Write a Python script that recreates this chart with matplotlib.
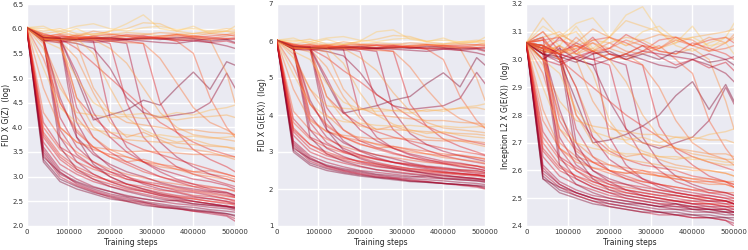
import matplotlib
matplotlib.use("Agg")
import matplotlib.pyplot as plt

steps = [0, 40000, 80000, 120000, 160000, 200000, 240000, 280000, 320000,
         360000, 400000, 440000, 480000, 500000]

# colour level of each run (hyper-parameter value), shared by the three panels
run_level = [1.0, 0.95, 0.9, 0.85, 0.8, 0.98, 0.75, 0.88, 0.7, 0.65, 0.6, 1.0,
             0.95, 0.9, 0.8, 0.85, 0.7, 0.6,
             0.95, 0.9, 0.8, 0.7, 1.0, 0.95,
             0.85, 0.8, 0.9, 0.75, 0.7, 0.6, 0.5,
             0.35, 0.4, 0.45, 0.5, 0.55,
             0.9, 0.4, 0.3, 0.6, 0.55, 0.35, 0.8, 0.5, 0.7, 0.3, 0.95, 0.65,
             0.55, 0.6, 0.5, 0.4, 0.45, 0.72, 0.78, 0.92, 0.85, 0.55, 0.35, 1.0]

fid_gz = [
    [6.02, 3.35, 2.95, 2.80, 2.68, 2.60, 2.52, 2.48, 2.42, 2.38, 2.33, 2.30, 2.25, 2.22],
    [6.02, 3.50, 3.05, 2.88, 2.75, 2.65, 2.58, 2.50, 2.45, 2.40, 2.38, 2.33, 2.30, 2.28],
    [6.02, 3.60, 3.15, 2.95, 2.80, 2.70, 2.62, 2.55, 2.50, 2.45, 2.42, 2.38, 2.35, 2.32],
    [6.02, 3.45, 3.00, 2.82, 2.70, 2.58, 2.50, 2.45, 2.38, 2.35, 2.30, 2.28, 2.22, 2.15],
    [6.02, 3.70, 3.25, 3.05, 2.90, 2.80, 2.72, 2.65, 2.58, 2.52, 2.50, 2.45, 2.40, 2.38],
    [6.02, 3.40, 3.08, 2.90, 2.78, 2.70, 2.60, 2.55, 2.50, 2.52, 2.45, 2.42, 2.40, 2.35],
    [6.02, 3.80, 3.35, 3.10, 2.95, 2.85, 2.75, 2.70, 2.62, 2.58, 2.55, 2.50, 2.45, 2.45],
    [6.02, 3.55, 3.10, 2.85, 2.72, 2.62, 2.55, 2.48, 2.40, 2.36, 2.30, 2.25, 2.20, 2.10],
    [6.02, 3.90, 3.45, 3.20, 3.05, 2.90, 2.80, 2.72, 2.65, 2.60, 2.55, 2.50, 2.48, 2.42],
    [6.02, 4.00, 3.55, 3.30, 3.15, 3.05, 2.95, 2.88, 2.80, 2.75, 2.70, 2.65, 2.60, 2.58],
    [6.02, 4.30, 3.80, 3.50, 3.30, 3.15, 3.05, 2.98, 2.90, 2.85, 2.80, 2.78, 2.75, 2.72],
    [6.02, 3.30, 2.90, 2.75, 2.65, 2.55, 2.50, 2.42, 2.38, 2.35, 2.32, 2.28, 2.25, 2.20],
    [6.02, 5.78, 3.60, 3.15, 2.95, 2.80, 2.70, 2.62, 2.55, 2.50, 2.45, 2.42, 2.38, 2.35],
    [6.02, 5.80, 3.80, 3.30, 3.05, 2.90, 2.78, 2.70, 2.62, 2.55, 2.50, 2.45, 2.40, 2.38],
    [6.02, 5.75, 3.95, 3.45, 3.20, 3.00, 2.85, 2.75, 2.68, 2.62, 2.58, 2.55, 2.50, 2.48],
    [6.02, 5.82, 4.20, 3.60, 3.30, 3.10, 2.95, 2.88, 2.80, 2.72, 2.68, 2.62, 2.55, 2.52],
    [6.02, 5.78, 4.50, 3.90, 3.60, 3.40, 3.25, 3.10, 3.00, 2.92, 2.85, 2.80, 2.75, 2.70],
    [6.02, 5.80, 4.00, 3.70, 3.55, 3.45, 3.40, 3.30, 3.25, 3.20, 3.10, 3.05, 3.00, 2.95],
    [6.02, 5.80, 5.78, 3.80, 3.25, 3.00, 2.85, 2.75, 2.65, 2.58, 2.50, 2.45, 2.40, 2.38],
    [6.02, 5.75, 5.82, 4.10, 3.50, 3.20, 3.00, 2.85, 2.75, 2.68, 2.60, 2.55, 2.50, 2.45],
    [6.02, 5.85, 5.75, 4.40, 3.80, 3.50, 3.30, 3.15, 3.00, 2.90, 2.80, 2.72, 2.65, 2.60],
    [6.02, 5.80, 5.80, 4.60, 4.20, 3.90, 3.70, 3.55, 3.45, 3.35, 3.25, 3.15, 3.05, 3.00],
    [6.02, 5.85, 5.80, 5.00, 4.15, 4.25, 4.35, 4.55, 4.45, 4.80, 5.12, 4.77, 5.33, 5.26],
    [6.02, 5.80, 5.75, 5.70, 5.60, 5.20, 4.60, 4.30, 4.20, 4.25, 4.30, 4.50, 5.10, 4.80],
    [6.02, 5.85, 5.80, 5.78, 5.75, 4.20, 3.60, 3.30, 3.10, 2.95, 2.85, 2.75, 2.68, 2.62],
    [6.02, 5.80, 5.85, 5.80, 5.78, 5.70, 4.50, 3.80, 3.45, 3.20, 3.05, 2.95, 2.85, 2.80],
    [6.02, 5.78, 5.80, 5.82, 5.80, 5.75, 5.70, 4.30, 3.70, 3.40, 3.20, 3.05, 2.95, 2.90],
    [6.02, 5.82, 5.78, 5.80, 5.85, 5.78, 5.75, 5.70, 4.50, 3.90, 3.55, 3.35, 3.20, 3.10],
    [6.02, 5.90, 5.80, 5.60, 5.30, 5.00, 4.70, 4.40, 4.10, 3.90, 3.70, 3.55, 3.45, 3.40],
    [6.02, 5.80, 5.78, 5.80, 5.82, 5.80, 5.78, 5.80, 5.82, 5.75, 5.50, 4.60, 4.00, 3.80],
    [6.02, 5.82, 5.80, 5.78, 5.82, 5.80, 5.78, 5.82, 5.80, 5.78, 5.80, 5.78, 5.10, 4.50],
    [6.02, 5.20, 4.40, 4.10, 3.95, 3.90, 3.85, 3.80, 3.85, 3.80, 3.82, 3.78, 3.80, 3.82],
    [6.02, 5.60, 4.80, 4.30, 4.25, 4.20, 4.22, 4.18, 4.20, 4.15, 4.20, 4.22, 4.25, 4.20],
    [6.02, 5.80, 5.70, 4.60, 4.00, 3.80, 3.75, 3.72, 3.70, 3.68, 3.65, 3.62, 3.60, 3.55],
    [6.02, 5.75, 5.80, 5.70, 4.80, 4.30, 4.10, 4.05, 4.00, 3.95, 3.95, 3.90, 3.88, 3.85],
    [6.02, 4.80, 4.00, 3.70, 3.60, 3.55, 3.50, 3.52, 3.50, 3.48, 3.45, 3.45, 3.42, 3.40],
    [6.02, 5.75, 5.72, 5.78, 5.75, 5.80, 5.78, 5.82, 5.80, 5.78, 5.75, 5.80, 5.78, 5.80],
    [6.02, 5.90, 5.95, 5.85, 5.90, 5.88, 5.92, 5.90, 5.85, 5.88, 5.90, 5.92, 5.95, 5.95],
    [6.02, 6.05, 5.90, 6.00, 5.85, 5.95, 6.10, 6.28, 6.00, 5.95, 6.05, 5.90, 5.95, 6.05],
    [6.02, 5.80, 5.85, 5.82, 5.78, 5.80, 5.85, 5.82, 5.80, 5.85, 5.82, 5.78, 5.80, 5.82],
    [6.02, 5.85, 5.78, 5.88, 5.80, 5.85, 5.80, 5.78, 5.82, 5.88, 5.85, 5.80, 5.85, 5.88],
    [6.02, 5.95, 6.00, 5.90, 5.88, 5.95, 6.00, 6.12, 6.10, 5.95, 5.90, 5.95, 6.00, 5.98],
    [6.02, 5.78, 5.75, 5.80, 5.82, 5.78, 5.80, 5.85, 5.80, 5.75, 5.78, 5.72, 5.75, 5.70],
    [6.02, 5.82, 5.90, 5.85, 5.95, 5.90, 5.85, 5.88, 5.92, 5.90, 5.85, 5.90, 5.88, 5.92],
    [6.02, 5.88, 5.82, 5.85, 5.80, 5.82, 5.88, 5.85, 5.82, 5.80, 5.85, 5.82, 5.80, 5.78],
    [6.02, 6.00, 5.95, 6.05, 6.10, 6.00, 5.95, 6.02, 6.05, 5.98, 6.00, 5.95, 5.95, 5.90],
    [6.02, 5.75, 5.80, 5.75, 5.72, 5.75, 5.78, 5.75, 5.72, 5.70, 5.75, 5.72, 5.65, 5.60],
    [6.02, 5.85, 5.88, 5.80, 5.85, 5.88, 5.85, 5.80, 5.85, 5.88, 5.82, 5.85, 5.88, 5.85],
    [6.02, 5.70, 4.90, 4.20, 3.80, 3.55, 3.40, 3.30, 3.20, 3.15, 3.05, 3.00, 2.95, 2.90],
    [6.02, 5.40, 4.50, 3.95, 3.60, 3.40, 3.30, 3.35, 3.25, 3.15, 3.10, 3.12, 3.05, 3.00],
    [6.02, 5.80, 5.75, 5.40, 4.70, 4.10, 3.80, 3.90, 3.75, 3.60, 3.55, 3.50, 3.40, 3.35],
    [6.02, 5.85, 5.78, 5.80, 5.50, 4.80, 4.20, 3.95, 3.80, 3.70, 3.75, 3.65, 3.60, 3.58],
    [6.02, 5.78, 5.80, 5.75, 5.78, 5.60, 5.30, 4.80, 4.30, 4.00, 3.85, 3.80, 3.75, 3.72],
    [6.02, 3.85, 3.40, 3.15, 3.00, 2.92, 2.85, 2.80, 2.72, 2.70, 2.62, 2.60, 2.55, 2.50],
    [6.02, 4.10, 3.60, 3.40, 3.20, 3.10, 3.00, 2.90, 2.85, 2.78, 2.72, 2.68, 2.62, 2.58],
    [6.02, 5.80, 4.60, 3.80, 3.45, 3.25, 3.10, 3.00, 2.88, 2.80, 2.75, 2.70, 2.68, 2.62],
    [6.02, 5.82, 5.80, 5.10, 4.30, 3.80, 3.50, 3.30, 3.15, 3.05, 2.95, 2.90, 2.82, 2.75],
    [6.02, 5.80, 5.78, 5.82, 5.80, 5.75, 5.72, 5.70, 5.40, 4.90, 4.40, 4.10, 3.95, 3.85],
    [6.02, 5.75, 5.60, 5.00, 4.50, 4.30, 4.25, 4.28, 4.22, 4.30, 4.25, 4.35, 4.40, 4.45],
    [6.02, 5.82, 5.80, 5.78, 5.80, 5.82, 5.78, 5.80, 5.78, 5.82, 5.80, 5.75, 5.78, 5.72],
]

fid_gex = [
    [6.02, 3.05, 2.70, 2.55, 2.45, 2.38, 2.32, 2.28, 2.22, 2.18, 2.15, 2.12, 2.08, 2.05],
    [6.02, 3.20, 2.80, 2.62, 2.52, 2.45, 2.38, 2.32, 2.28, 2.25, 2.22, 2.18, 2.15, 2.12],
    [6.02, 3.30, 2.90, 2.72, 2.60, 2.50, 2.45, 2.40, 2.35, 2.30, 2.28, 2.25, 2.22, 2.20],
    [6.02, 3.15, 2.75, 2.58, 2.48, 2.40, 2.32, 2.28, 2.22, 2.20, 2.15, 2.10, 2.05, 2.00],
    [6.02, 3.45, 3.00, 2.82, 2.70, 2.60, 2.52, 2.48, 2.42, 2.38, 2.35, 2.32, 2.28, 2.25],
    [6.02, 3.10, 2.82, 2.65, 2.55, 2.48, 2.40, 2.36, 2.32, 2.35, 2.28, 2.25, 2.22, 2.18],
    [6.02, 3.55, 3.10, 2.90, 2.78, 2.68, 2.60, 2.55, 2.48, 2.45, 2.42, 2.38, 2.35, 2.32],
    [6.02, 3.25, 2.85, 2.62, 2.50, 2.42, 2.35, 2.30, 2.25, 2.20, 2.15, 2.12, 2.08, 2.02],
    [6.02, 3.65, 3.20, 3.00, 2.85, 2.75, 2.65, 2.58, 2.52, 2.48, 2.45, 2.40, 2.38, 2.35],
    [6.02, 3.80, 3.35, 3.12, 2.98, 2.88, 2.80, 2.72, 2.65, 2.60, 2.55, 2.52, 2.48, 2.45],
    [6.02, 4.10, 3.60, 3.35, 3.15, 3.02, 2.92, 2.85, 2.78, 2.72, 2.68, 2.65, 2.62, 2.60],
    [6.02, 3.00, 2.65, 2.50, 2.42, 2.35, 2.30, 2.25, 2.20, 2.18, 2.15, 2.12, 2.10, 2.08],
    [6.02, 5.80, 3.40, 2.95, 2.75, 2.62, 2.52, 2.45, 2.40, 2.35, 2.30, 2.28, 2.25, 2.22],
    [6.02, 5.82, 3.60, 3.10, 2.88, 2.72, 2.62, 2.55, 2.48, 2.42, 2.38, 2.32, 2.28, 2.25],
    [6.02, 5.78, 3.80, 3.25, 3.00, 2.85, 2.72, 2.62, 2.55, 2.50, 2.45, 2.42, 2.38, 2.35],
    [6.02, 5.85, 4.00, 3.40, 3.10, 2.92, 2.80, 2.72, 2.65, 2.58, 2.52, 2.48, 2.42, 2.40],
    [6.02, 5.80, 4.30, 3.70, 3.40, 3.22, 3.08, 2.95, 2.85, 2.78, 2.72, 2.68, 2.62, 2.58],
    [6.02, 5.82, 3.90, 3.55, 3.40, 3.30, 3.22, 3.15, 3.08, 3.02, 2.95, 2.90, 2.85, 2.82],
    [6.02, 5.82, 5.80, 3.60, 3.05, 2.82, 2.68, 2.58, 2.50, 2.42, 2.36, 2.32, 2.28, 2.25],
    [6.02, 5.78, 5.85, 3.90, 3.30, 3.02, 2.85, 2.72, 2.62, 2.55, 2.48, 2.42, 2.38, 2.35],
    [6.02, 5.88, 5.78, 4.20, 3.60, 3.30, 3.12, 2.98, 2.85, 2.75, 2.68, 2.60, 2.55, 2.50],
    [6.02, 5.82, 5.82, 4.50, 4.05, 3.75, 3.55, 3.40, 3.30, 3.20, 3.10, 3.02, 2.95, 2.90],
    [6.02, 5.85, 5.80, 4.90, 4.05, 4.15, 4.25, 4.40, 4.50, 4.85, 5.14, 4.76, 5.55, 5.35],
    [6.02, 5.82, 5.78, 5.72, 5.60, 5.15, 4.55, 4.25, 4.15, 4.20, 4.25, 4.45, 5.15, 4.85],
    [6.02, 5.85, 5.82, 5.80, 5.78, 4.00, 3.40, 3.10, 2.92, 2.80, 2.70, 2.62, 2.55, 2.50],
    [6.02, 5.82, 5.85, 5.82, 5.80, 5.72, 4.30, 3.60, 3.25, 3.05, 2.90, 2.80, 2.72, 2.68],
    [6.02, 5.80, 5.82, 5.85, 5.82, 5.78, 5.72, 4.10, 3.50, 3.20, 3.02, 2.90, 2.80, 2.75],
    [6.02, 5.85, 5.80, 5.82, 5.88, 5.80, 5.78, 5.72, 4.30, 3.70, 3.35, 3.15, 3.00, 2.92],
    [6.02, 5.92, 5.80, 5.55, 5.20, 4.90, 4.55, 4.25, 3.95, 3.70, 3.50, 3.35, 3.25, 3.20],
    [6.02, 5.82, 5.80, 5.82, 5.85, 5.82, 5.80, 5.82, 5.85, 5.78, 5.50, 4.50, 3.85, 3.65],
    [6.02, 5.85, 5.82, 5.80, 5.85, 5.82, 5.80, 5.85, 5.82, 5.80, 5.82, 5.80, 5.00, 4.40],
    [6.02, 5.10, 4.30, 3.95, 3.82, 3.78, 3.72, 3.70, 3.72, 3.68, 3.70, 3.66, 3.68, 3.70],
    [6.02, 5.55, 4.70, 4.25, 4.18, 4.15, 4.18, 4.12, 4.15, 4.10, 4.15, 4.18, 4.20, 4.15],
    [6.02, 5.82, 5.70, 4.50, 3.90, 3.70, 3.62, 3.60, 3.58, 3.55, 3.52, 3.50, 3.48, 3.45],
    [6.02, 5.78, 5.82, 5.70, 4.70, 4.20, 4.00, 3.95, 3.90, 3.85, 3.85, 3.80, 3.78, 3.75],
    [6.02, 4.70, 3.85, 3.55, 3.45, 3.40, 3.35, 3.38, 3.35, 3.32, 3.30, 3.30, 3.28, 3.25],
    [6.02, 5.78, 5.75, 5.80, 5.78, 5.82, 5.80, 5.85, 5.82, 5.80, 5.78, 5.82, 5.80, 5.82],
    [6.02, 5.92, 5.98, 5.88, 5.92, 5.90, 5.95, 5.92, 5.88, 5.90, 5.92, 5.95, 5.98, 6.00],
    [6.02, 6.08, 5.92, 6.05, 5.90, 6.00, 6.25, 6.30, 6.05, 5.98, 6.08, 5.92, 5.98, 6.10],
    [6.02, 5.82, 5.88, 5.85, 5.80, 5.82, 5.88, 5.85, 5.82, 5.88, 5.85, 5.80, 5.82, 5.85],
    [6.02, 5.88, 5.80, 5.90, 5.82, 5.88, 5.82, 5.80, 5.85, 5.90, 5.88, 5.82, 5.88, 5.90],
    [6.02, 5.98, 6.05, 5.92, 5.90, 5.98, 6.05, 6.15, 6.12, 5.98, 5.92, 5.98, 6.02, 6.00],
    [6.02, 5.80, 5.78, 5.82, 5.85, 5.80, 5.82, 5.88, 5.82, 5.78, 5.80, 5.75, 5.78, 5.72],
    [6.02, 5.85, 5.92, 5.88, 5.98, 5.92, 5.88, 5.90, 5.95, 5.92, 5.88, 5.92, 5.90, 5.95],
    [6.02, 5.90, 5.85, 5.88, 5.82, 5.85, 5.90, 5.88, 5.85, 5.82, 5.88, 5.85, 5.82, 5.80],
    [6.02, 6.02, 5.98, 6.08, 6.12, 6.02, 5.98, 6.05, 6.08, 6.00, 6.02, 5.98, 5.98, 5.92],
    [6.02, 5.78, 5.82, 5.78, 5.75, 5.78, 5.80, 5.78, 5.75, 5.72, 5.78, 5.75, 5.68, 5.62],
    [6.02, 5.88, 5.90, 5.82, 5.88, 5.90, 5.88, 5.82, 5.88, 5.90, 5.85, 5.88, 5.90, 5.88],
    [6.02, 5.65, 4.70, 4.00, 3.60, 3.35, 3.20, 3.10, 3.00, 2.95, 2.85, 2.80, 2.75, 2.70],
    [6.02, 5.30, 4.30, 3.75, 3.40, 3.20, 3.10, 3.15, 3.05, 2.95, 2.90, 2.92, 2.85, 2.80],
    [6.02, 5.82, 5.78, 5.30, 4.50, 3.90, 3.60, 3.70, 3.55, 3.40, 3.35, 3.30, 3.20, 3.15],
    [6.02, 5.85, 5.80, 5.82, 5.40, 4.60, 4.00, 3.75, 3.60, 3.50, 3.55, 3.45, 3.40, 3.38],
    [6.02, 5.80, 5.82, 5.78, 5.80, 5.55, 5.20, 4.60, 4.10, 3.80, 3.65, 3.60, 3.55, 3.52],
    [6.02, 3.60, 3.20, 2.95, 2.82, 2.75, 2.68, 2.62, 2.55, 2.52, 2.45, 2.42, 2.38, 2.35],
    [6.02, 3.90, 3.40, 3.20, 3.02, 2.92, 2.82, 2.72, 2.68, 2.60, 2.55, 2.50, 2.45, 2.42],
    [6.02, 5.82, 4.40, 3.60, 3.25, 3.05, 2.92, 2.82, 2.70, 2.62, 2.58, 2.52, 2.50, 2.45],
    [6.02, 5.85, 5.82, 5.00, 4.10, 3.60, 3.30, 3.10, 2.95, 2.85, 2.75, 2.70, 2.62, 2.55],
    [6.02, 5.82, 5.80, 5.85, 5.82, 5.78, 5.75, 5.72, 5.30, 4.70, 4.20, 3.90, 3.75, 3.65],
    [6.02, 5.72, 5.50, 4.85, 4.35, 4.15, 4.10, 4.12, 4.05, 4.15, 4.10, 4.20, 4.25, 4.30],
    [6.02, 5.85, 5.82, 5.80, 5.82, 5.85, 5.80, 5.82, 5.80, 5.85, 5.82, 5.78, 5.80, 5.75],
]

incep_gex = [
    [3.06, 2.58, 2.53, 2.51, 2.49, 2.48, 2.47, 2.46, 2.45, 2.45, 2.44, 2.44, 2.43, 2.43],
    [3.06, 2.60, 2.55, 2.52, 2.50, 2.49, 2.48, 2.47, 2.46, 2.46, 2.45, 2.45, 2.44, 2.44],
    [3.06, 2.62, 2.56, 2.53, 2.51, 2.50, 2.49, 2.48, 2.47, 2.47, 2.46, 2.46, 2.45, 2.45],
    [3.06, 2.59, 2.54, 2.51, 2.49, 2.47, 2.46, 2.45, 2.44, 2.44, 2.43, 2.43, 2.42, 2.41],
    [3.06, 2.65, 2.58, 2.55, 2.53, 2.51, 2.50, 2.49, 2.48, 2.48, 2.47, 2.47, 2.46, 2.46],
    [3.06, 2.57, 2.54, 2.52, 2.50, 2.49, 2.48, 2.48, 2.47, 2.48, 2.46, 2.46, 2.45, 2.45],
    [3.06, 2.67, 2.60, 2.57, 2.54, 2.52, 2.51, 2.50, 2.49, 2.49, 2.48, 2.48, 2.47, 2.47],
    [3.06, 2.61, 2.55, 2.52, 2.50, 2.48, 2.47, 2.46, 2.45, 2.44, 2.43, 2.43, 2.42, 2.40],
    [3.06, 2.70, 2.62, 2.58, 2.55, 2.53, 2.52, 2.51, 2.50, 2.49, 2.49, 2.48, 2.48, 2.47],
    [3.06, 2.72, 2.64, 2.60, 2.57, 2.55, 2.54, 2.53, 2.52, 2.51, 2.50, 2.50, 2.49, 2.49],
    [3.06, 2.78, 2.68, 2.64, 2.61, 2.59, 2.57, 2.56, 2.55, 2.54, 2.53, 2.53, 2.52, 2.52],
    [3.06, 2.57, 2.52, 2.50, 2.48, 2.47, 2.46, 2.45, 2.45, 2.44, 2.44, 2.43, 2.43, 2.42],
    [3.06, 3.02, 2.62, 2.55, 2.52, 2.50, 2.49, 2.48, 2.47, 2.46, 2.46, 2.45, 2.45, 2.44],
    [3.06, 3.05, 2.65, 2.57, 2.54, 2.52, 2.50, 2.49, 2.48, 2.47, 2.47, 2.46, 2.46, 2.45],
    [3.06, 3.00, 2.68, 2.60, 2.56, 2.54, 2.52, 2.51, 2.50, 2.49, 2.48, 2.48, 2.47, 2.47],
    [3.06, 3.08, 2.72, 2.62, 2.58, 2.55, 2.53, 2.52, 2.51, 2.50, 2.49, 2.49, 2.48, 2.48],
    [3.06, 3.03, 2.78, 2.68, 2.63, 2.60, 2.58, 2.56, 2.55, 2.54, 2.53, 2.52, 2.52, 2.51],
    [3.06, 3.05, 2.70, 2.65, 2.63, 2.62, 2.61, 2.60, 2.59, 2.58, 2.57, 2.56, 2.56, 2.55],
    [3.06, 3.04, 3.02, 2.65, 2.57, 2.53, 2.51, 2.50, 2.49, 2.48, 2.47, 2.46, 2.46, 2.45],
    [3.06, 3.00, 3.05, 2.70, 2.60, 2.56, 2.53, 2.51, 2.50, 2.49, 2.48, 2.47, 2.47, 2.46],
    [3.06, 3.08, 3.00, 2.75, 2.65, 2.60, 2.57, 2.55, 2.53, 2.52, 2.51, 2.50, 2.49, 2.48],
    [3.06, 3.04, 3.03, 2.80, 2.72, 2.67, 2.64, 2.62, 2.61, 2.60, 2.58, 2.57, 2.56, 2.55],
    [3.06, 3.02, 3.00, 2.85, 2.70, 2.71, 2.73, 2.76, 2.80, 2.87, 2.92, 2.82, 2.91, 2.85],
    [3.06, 3.03, 3.02, 3.00, 2.98, 2.85, 2.75, 2.70, 2.68, 2.70, 2.72, 2.78, 2.90, 2.84],
    [3.06, 3.05, 3.02, 3.00, 3.03, 2.72, 2.62, 2.57, 2.54, 2.52, 2.51, 2.50, 2.49, 2.48],
    [3.06, 3.02, 3.08, 3.02, 3.00, 2.98, 2.75, 2.65, 2.60, 2.56, 2.54, 2.52, 2.51, 2.50],
    [3.06, 3.04, 3.02, 3.06, 3.03, 3.00, 2.98, 2.72, 2.63, 2.58, 2.55, 2.53, 2.52, 2.51],
    [3.06, 3.07, 3.00, 3.03, 3.08, 3.02, 3.00, 2.98, 2.76, 2.67, 2.62, 2.58, 2.56, 2.54],
    [3.06, 3.05, 3.00, 2.95, 2.90, 2.85, 2.80, 2.76, 2.72, 2.68, 2.65, 2.63, 2.61, 2.60],
    [3.06, 3.03, 3.02, 3.04, 3.06, 3.02, 3.00, 3.03, 3.05, 3.00, 2.95, 2.78, 2.68, 2.64],
    [3.06, 3.05, 3.03, 3.02, 3.06, 3.04, 3.02, 3.05, 3.03, 3.02, 3.04, 3.00, 2.85, 2.75],
    [3.06, 2.90, 2.75, 2.70, 2.68, 2.67, 2.66, 2.66, 2.65, 2.65, 2.64, 2.64, 2.63, 2.63],
    [3.06, 2.98, 2.85, 2.78, 2.76, 2.75, 2.74, 2.73, 2.73, 2.72, 2.72, 2.71, 2.71, 2.70],
    [3.06, 3.04, 3.00, 2.80, 2.70, 2.66, 2.64, 2.63, 2.62, 2.61, 2.60, 2.60, 2.59, 2.58],
    [3.06, 3.02, 3.05, 3.00, 2.85, 2.76, 2.72, 2.70, 2.69, 2.68, 2.67, 2.66, 2.66, 2.65],
    [3.06, 2.82, 2.68, 2.63, 2.61, 2.60, 2.59, 2.59, 2.58, 2.58, 2.57, 2.57, 2.56, 2.56],
    [3.06, 3.02, 2.99, 3.01, 3.00, 3.02, 3.01, 3.03, 3.02, 3.01, 3.00, 3.02, 3.00, 3.01],
    [3.06, 3.08, 3.10, 3.05, 3.07, 3.06, 3.08, 3.07, 3.04, 3.06, 3.08, 3.09, 3.10, 3.11],
    [3.06, 3.10, 3.05, 3.12, 3.04, 3.08, 3.16, 3.19, 3.10, 3.06, 3.12, 3.04, 3.08, 3.13],
    [3.06, 3.04, 3.07, 3.05, 3.03, 3.04, 3.07, 3.05, 3.04, 3.07, 3.05, 3.03, 3.04, 3.05],
    [3.06, 3.07, 3.02, 3.08, 3.03, 3.06, 3.03, 3.02, 3.04, 3.08, 3.07, 3.03, 3.06, 3.08],
    [3.06, 3.15, 3.08, 3.10, 3.03, 3.08, 3.14, 3.12, 3.10, 3.05, 3.03, 3.06, 3.08, 3.07],
    [3.06, 3.00, 2.98, 3.01, 3.03, 3.00, 3.02, 3.05, 3.01, 2.98, 3.00, 2.97, 2.99, 2.96],
    [3.06, 3.05, 3.09, 3.06, 3.11, 3.08, 3.05, 3.07, 3.09, 3.08, 3.05, 3.08, 3.06, 3.09],
    [3.06, 3.10, 3.03, 3.05, 3.02, 3.04, 3.09, 3.06, 3.03, 3.02, 3.06, 3.04, 3.02, 3.00],
    [3.06, 3.12, 3.08, 3.13, 3.15, 3.08, 3.05, 3.10, 3.12, 3.07, 3.08, 3.05, 3.06, 3.02],
    [3.06, 3.00, 3.04, 3.00, 2.98, 3.00, 3.02, 3.00, 2.98, 2.97, 3.00, 2.98, 2.95, 2.92],
    [3.06, 3.07, 3.08, 3.03, 3.07, 3.08, 3.06, 3.03, 3.07, 3.08, 3.05, 3.07, 3.08, 3.06],
    [3.06, 3.00, 2.80, 2.70, 2.65, 2.62, 2.60, 2.59, 2.58, 2.57, 2.56, 2.55, 2.55, 2.54],
    [3.06, 2.95, 2.75, 2.67, 2.63, 2.60, 2.59, 2.60, 2.58, 2.57, 2.56, 2.56, 2.55, 2.54],
    [3.06, 3.04, 3.02, 2.90, 2.75, 2.68, 2.65, 2.66, 2.64, 2.62, 2.61, 2.60, 2.59, 2.58],
    [3.06, 3.05, 3.03, 3.04, 2.95, 2.78, 2.70, 2.67, 2.65, 2.64, 2.65, 2.63, 2.62, 2.62],
    [3.06, 3.03, 3.05, 3.02, 3.04, 3.00, 2.92, 2.80, 2.72, 2.68, 2.66, 2.65, 2.64, 2.64],
    [3.06, 2.68, 2.61, 2.58, 2.56, 2.54, 2.53, 2.52, 2.51, 2.51, 2.50, 2.49, 2.49, 2.48],
    [3.06, 2.74, 2.65, 2.61, 2.58, 2.56, 2.55, 2.54, 2.53, 2.52, 2.51, 2.51, 2.50, 2.50],
    [3.06, 3.04, 2.82, 2.66, 2.60, 2.57, 2.55, 2.53, 2.52, 2.51, 2.50, 2.49, 2.49, 2.48],
    [3.06, 3.05, 3.02, 2.90, 2.72, 2.64, 2.60, 2.57, 2.55, 2.53, 2.52, 2.51, 2.50, 2.49],
    [3.06, 3.04, 3.02, 3.05, 3.03, 3.00, 3.02, 2.98, 2.90, 2.78, 2.70, 2.66, 2.64, 2.62],
    [3.06, 3.00, 2.95, 2.82, 2.74, 2.72, 2.71, 2.72, 2.70, 2.72, 2.71, 2.73, 2.74, 2.75],
    [3.06, 3.02, 3.01, 2.99, 3.02, 3.03, 3.00, 3.02, 3.00, 3.03, 3.02, 2.99, 3.00, 2.98],
]

panels = [
    (fid_gz, "FID X G(Z)  (log)", [2.0, 2.5, 3.0, 3.5, 4.0, 4.5, 5.0, 5.5, 6.0, 6.5], (2.0, 6.5), "{:.1f}"),
    (fid_gex, "FID X G(E(X))  (log)", [1, 2, 3, 4, 5, 6, 7], (1, 7), "{:d}"),
    (incep_gex, "Inception L2 X G(E(X))  (log)", [2.4, 2.5, 2.6, 2.7, 2.8, 2.9, 3.0, 3.1, 3.2], (2.4, 3.2), "{:.1f}"),
]
xticks = [0, 100000, 200000, 300000, 400000, 500000]

W, H = 748, 250
fig = plt.figure(figsize=(W / 100, H / 100), dpi=100)
lefts = [26.7, 276.7, 526.3]
rights = [235, 485, 734]
top_px, bot_px = 4, 226
cmap = plt.get_cmap("YlOrRd")

for (data, ylabel, yticks, ylim, fmt), l, r in zip(panels, lefts, rights):
    ax = fig.add_axes([l / W, 1 - bot_px / H, (r - l) / W, (bot_px - top_px) / H])
    ax.set_facecolor("#EAEAF2")
    for s in ax.spines.values():
        s.set_visible(False)
    ax.grid(True, color="white", linewidth=1.0)
    ax.set_axisbelow(True)
    for series, lev in zip(data, run_level):
        ax.plot(steps, series, color=cmap(lev), alpha=0.42, linewidth=1.0)
    ax.set_xlim(0, 500000)
    ax.set_ylim(*ylim)
    ax.set_xticks(xticks)
    ax.set_xticklabels([str(v) for v in xticks])
    ax.set_yticks(yticks)
    ax.set_yticklabels([fmt.format(v) for v in yticks])
    ax.tick_params(length=0, labelsize=5, pad=2.5, colors="#333333")
    ax.set_xlabel("Training steps", fontsize=5.5, labelpad=2, color="#222222")
    ax.set_ylabel(ylabel, fontsize=5.5, labelpad=1, color="#222222")

fig.savefig("out.png", dpi=100)
